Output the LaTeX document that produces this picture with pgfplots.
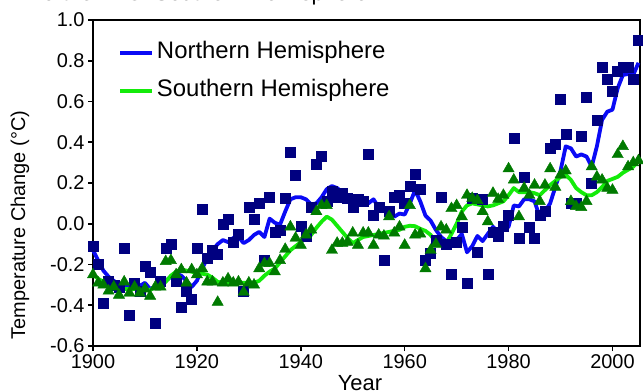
\documentclass[border=0pt]{standalone}
\usepackage{fontspec}
\setmainfont{Liberation Sans}
\usepackage{pgfplots}
\usepackage{pgfplotstable}
\pgfplotsset{compat=1.18}

\definecolor{nhmark}{RGB}{0,0,128}
\definecolor{nhline}{RGB}{10,10,245}
\definecolor{shmark}{RGB}{0,122,0}
\definecolor{shline}{RGB}{20,235,10}

% year, annual anomaly, smoothed anomaly (deg C)
\pgfplotstableread{
year annual smooth
1900 -0.11 -0.13
1901 -0.20 -0.18
1902 -0.39 -0.23
1903 -0.28 -0.26
1904 -0.30 -0.28
1905 -0.31 -0.30
1906 -0.12 -0.30
1907 -0.45 -0.305
1908 -0.29 -0.305
1909 -0.33 -0.305
1910 -0.21 -0.29
1911 -0.24 -0.32
1912 -0.49 -0.31
1913 -0.28 -0.30
1914 -0.12 -0.28
1915 -0.10 -0.26
1916 -0.28 -0.245
1917 -0.41 -0.255
1918 -0.33 -0.28
1919 -0.37 -0.31
1920 -0.12 -0.28
1921 0.07 -0.22
1922 -0.17 -0.17
1923 -0.13 -0.13
1924 -0.15 -0.10
1925 0.00 -0.08
1926 0.02 -0.09
1927 -0.09 -0.07
1928 -0.05 -0.065
1929 -0.33 -0.095
1930 0.08 -0.08
1931 0.02 -0.055
1932 0.10 -0.04
1933 -0.18 -0.065
1934 0.13 0.025
1935 -0.04 0.005
1936 -0.03 -0.005
1937 0.125 0.06
1938 0.35 0.12
1939 0.24 0.13
1940 -0.01 0.13
1941 -0.06 0.12
1942 0.08 0.095
1943 0.29 0.10
1944 0.33 0.13
1945 0.11 0.17
1946 0.16 0.185
1947 0.13 0.175
1948 0.15 0.155
1949 0.125 0.12
1950 0.08 0.10
1951 0.12 0.095
1952 0.11 0.115
1953 0.34 0.10
1954 0.04 0.12
1955 0.08 0.08
1956 -0.18 0.075
1957 0.06 0.06
1958 0.13 0.035
1959 0.14 0.05
1960 0.10 0.045
1961 0.185 0.10
1962 0.245 0.165
1963 0.17 0.11
1964 -0.18 0.04
1965 -0.145 0.015
1966 -0.08 -0.03
1967 0.13 -0.065
1968 -0.10 -0.085
1969 -0.25 -0.09
1970 -0.09 -0.08
1971 -0.015 -0.05
1972 -0.29 -0.14
1973 0.125 -0.11
1974 -0.14 -0.06
1975 0.12 -0.085
1976 -0.25 -0.05
1977 -0.04 -0.015
1978 -0.06 -0.04
1979 -0.01 -0.005
1980 0.04 -0.015
1981 0.42 0.09
1982 -0.07 0.085
1983 0.23 0.12
1984 -0.015 0.12
1985 -0.07 0.11
1986 0.04 0.035
1987 0.06 0.06
1988 0.37 0.10
1989 0.39 0.18
1990 0.61 0.26
1991 0.44 0.38
1992 0.10 0.37
1993 0.10 0.33
1994 0.43 0.34
1995 0.62 0.33
1996 0.20 0.28
1997 0.51 0.38
1998 0.77 0.51
1999 0.71 0.55
2000 0.65 0.56
2001 0.75 0.665
2002 0.77 0.73
2003 0.77 0.735
2004 0.71 0.73
2005 0.90 0.79
}\north

\pgfplotstableread{
year annual smooth
1900 -0.25 -0.25
1901 -0.29 -0.27
1902 -0.30 -0.285
1903 -0.33 -0.30
1904 -0.31 -0.31
1905 -0.35 -0.32
1906 -0.285 -0.32
1907 -0.34 -0.32
1908 -0.31 -0.32
1909 -0.34 -0.32
1910 -0.32 -0.322
1911 -0.355 -0.325
1912 -0.31 -0.31
1913 -0.31 -0.305
1914 -0.185 -0.285
1915 -0.18 -0.255
1916 -0.25 -0.235
1917 -0.225 -0.225
1918 -0.29 -0.23
1919 -0.225 -0.235
1920 -0.25 -0.245
1921 -0.22 -0.245
1922 -0.285 -0.25
1923 -0.285 -0.265
1924 -0.385 -0.285
1925 -0.29 -0.29
1926 -0.27 -0.29
1927 -0.29 -0.29
1928 -0.285 -0.29
1929 -0.335 -0.29
1930 -0.29 -0.29
1931 -0.30 -0.29
1932 -0.22 -0.28
1933 -0.195 -0.255
1934 -0.195 -0.235
1935 -0.235 -0.22
1936 -0.18 -0.19
1937 -0.125 -0.16
1938 -0.015 -0.13
1939 -0.07 -0.11
1940 -0.105 -0.09
1941 -0.055 -0.07
1942 -0.03 -0.055
1943 0.06 -0.02
1944 0.09 0.01
1945 0.09 0.035
1946 -0.13 0.02
1947 -0.095 -0.01
1948 -0.095 -0.04
1949 -0.09 -0.07
1950 -0.045 -0.095
1951 -0.105 -0.08
1952 -0.045 -0.065
1953 -0.045 -0.06
1954 -0.105 -0.055
1955 -0.055 -0.05
1956 -0.06 -0.045
1957 0.035 -0.04
1958 -0.045 -0.035
1959 -0.015 -0.03
1960 -0.105 -0.015
1961 0.09 -0.01
1962 -0.055 -0.012
1963 -0.05 -0.025
1964 -0.22 -0.035
1965 -0.13 -0.055
1966 -0.10 -0.09
1967 -0.015 -0.10
1968 -0.03 -0.095
1969 0.075 -0.05
1970 0.09 0.00
1971 0.035 0.06
1972 0.14 0.09
1973 0.125 0.10
1974 0.115 0.095
1975 0.06 0.09
1976 0.01 0.085
1977 0.15 0.09
1978 0.12 0.10
1979 0.14 0.11
1980 0.27 0.14
1981 0.215 0.175
1982 0.035 0.155
1983 0.175 0.155
1984 0.14 0.155
1985 0.19 0.15
1986 0.11 0.14
1987 0.19 0.165
1988 0.27 0.19
1989 0.18 0.21
1990 0.24 0.23
1991 0.26 0.24
1992 0.11 0.215
1993 0.085 0.175
1994 0.08 0.155
1995 0.11 0.14
1996 0.28 0.14
1997 0.23 0.155
1998 0.215 0.18
1999 0.175 0.21
2000 0.165 0.22
2001 0.34 0.23
2002 0.38 0.25
2003 0.28 0.265
2004 0.30 0.28
2005 0.31 0.31
}\south

\begin{document}
\begin{tikzpicture}
\begin{axis}[
  name=ax,
  width=547bp, height=326bp, scale only axis,
  xmin=1900, xmax=2005.3, ymin=-0.6, ymax=1.0,
  xtick={1900,1920,1940,1960,1980,2000},
  xticklabels={1900,1920,1940,1960,1980,2000},
  ytick={-0.6,-0.4,-0.2,0,0.2,0.4,0.6,0.8,1.0},
  yticklabels={-0.6,-0.4,-0.2,0.0,0.2,0.4,0.6,0.8,1.0},
  tick align=outside, tick pos=left,
  major tick length=5bp,
  axis line style={line width=1.6bp},
  every tick/.style={black, line width=1.6bp},
  ticklabel style={font=\fontsize{20}{24}\selectfont},
  title={B. Northern vs. Southern Hemisphere},
  title style={font=\fontsize{22}{26}\selectfont, at={(axis description cs:-0.170,1.04)}, anchor=base west, inner sep=0pt},
  xlabel={Year},
  ylabel={Temperature Change (°C)},
  every axis x label/.style={at={(axis description cs:0.488,-0.1365)}, anchor=base, inner sep=0pt,
    font=\fontsize{22}{26}\selectfont},
  every axis y label/.style={at={(axis description cs:-0.1335,0.371)}, anchor=center, rotate=90, inner sep=0pt,
    font=\fontsize{20}{24}\selectfont},
  legend style={draw=none, fill=none, at={(axis description cs:0.0457,0.935)}, anchor=north west,
    inner sep=0pt, font=\fontsize{24}{28}\selectfont, row sep=15.5bp, column sep=3bp,
    nodes={inner sep=0pt, text height=17.5bp, text depth=5bp}},
  legend cell align=left,
  legend image code/.code={\draw[#1, line width=3.8bp] (0bp,0bp) -- (32bp,0bp);},
  clip=false,
]
\addplot[only marks, mark=square*, mark size=5bp, draw=nhmark, fill=nhmark, forget plot] table[x=year, y=annual] {\north};
\addplot[only marks, mark=triangle*, mark size=6.5bp, draw=shmark, fill=shmark, forget plot] table[x=year, y=annual] {\south};
\addplot[nhline, line width=3.8bp, no marks, line join=round] table[x=year, y=smooth] {\north};
\addlegendentry{Northern Hemisphere}
\addplot[shline, line width=3.8bp, no marks, line join=round] table[x=year, y=smooth] {\south};
\addlegendentry{Southern Hemisphere}
\end{axis}
\pgfresetboundingbox
\path (ax.south west) ++(-93bp,-46bp) rectangle ++(643bp,392bp);
\end{tikzpicture}
\end{document}
